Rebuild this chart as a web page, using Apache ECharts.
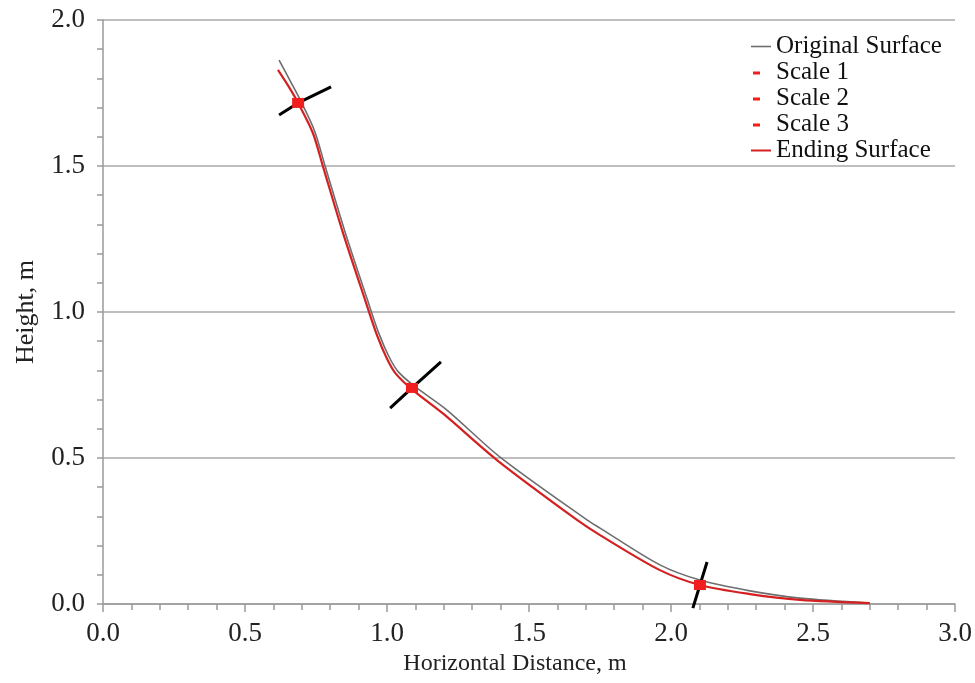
<!DOCTYPE html>
<html>
<head>
<meta charset="utf-8">
<script src="https://cdn.jsdelivr.net/npm/echarts@6/dist/echarts.min.js"></script>
<style>
html,body{margin:0;padding:0;background:#fff;}
#chart{width:975px;height:683px;}
</style>
</head>
<body>
<div id="chart"></div>
<script>
// Data
const originalX = [0.620, 0.660, 0.695, 0.745, 0.782, 0.852, 0.930, 0.972, 1.008, 1.040, 1.098, 1.210, 1.398, 1.704, 1.750, 1.961, 2.102, 2.278, 2.454, 2.700];
const originalY = [1.863, 1.790, 1.725, 1.620, 1.500, 1.275, 1.045, 0.925, 0.845, 0.795, 0.745, 0.665, 0.503, 0.288, 0.260, 0.134, 0.082, 0.045, 0.020, 0.003];
const endingX = [0.616, 0.655, 0.687, 0.739, 0.775, 0.845, 0.923, 0.965, 1.000, 1.030, 1.088, 1.200, 1.387, 1.669, 1.750, 1.961, 2.102, 2.278, 2.454, 2.700];
const endingY = [1.829, 1.770, 1.716, 1.613, 1.497, 1.271, 1.041, 0.920, 0.840, 0.790, 0.735, 0.650, 0.493, 0.288, 0.236, 0.116, 0.065, 0.034, 0.014, 0.003];
const scale1Center = [0.687, 1.716];
const scale1Line = [[0.620, 1.675], [0.803, 1.771]];
const scale2Center = [1.088, 0.740];
const scale2Line = [[1.011, 0.671], [1.190, 0.829]];
const scale3Center = [2.102, 0.065];
const scale3Line = [[2.077, -0.014], [2.127, 0.144]];
const xTicks = [0, 0.5, 1.0, 1.5, 2.0, 2.5, 3.0];
const yTicks = [0, 0.5, 1.0, 1.5, 2.0];
const seriesNames = ['Original Surface', 'Scale 1', 'Scale 2', 'Scale 3', 'Ending Surface'];

const FONT = 'Liberation Serif';
const GRAY = '#6e6e6e';
const RED = '#d42020';
const MARK = '#f01e1e';
const zip = (xs, ys) => xs.map((x, i) => [x, ys[i]]);
function scaleData(line, center) {
  return [
    { value: line[0], symbol: 'none' },
    { value: center, symbol: 'rect', symbolSize: [12, 10] },
    { value: line[1], symbol: 'none' }
  ];
}
function scaleSeries(name, line, center) {
  return {
    name: name, type: 'line',
    data: scaleData(line, center), clip: false, z: 5,
    lineStyle: { color: '#000', width: 3 },
    itemStyle: { color: MARK },
    showAllSymbol: true
  };
}
const dashIcon = 'path://M0,0 L0,0 M2,4 L9,4 L9,7 L2,7 Z M20,10 L20,10';
const lineIcon = 'path://M0,0 L0,0 M0,4.2 L20,4.2 L20,5.8 L0,5.8 Z M20,10 L20,10';
const lineIconRed = 'path://M0,0 L0,0 M0,4 L20,4 L20,6 L0,6 Z M20,10 L20,10';

const chart = echarts.init(document.getElementById('chart'), null, { renderer: 'canvas' });
const axisCommon = { min: 0, interval: 0.5 };
const tickColor = '#9a9a9a';
chart.setOption({
  animation: false,
  backgroundColor: '#fff',
  grid: { left: 103, right: 20, top: 20, bottom: 79, containLabel: false, outerBoundsMode: 'none' },
  legend: {
    orient: 'vertical', left: 751, top: 34,
    itemWidth: 20, itemHeight: 10, itemGap: 1,
    textStyle: { fontFamily: FONT, fontSize: 25, color: '#111', lineHeight: 22 },
    padding: [0, 0, 0, 0],
    data: [
      { name: seriesNames[0], icon: lineIcon, itemStyle: { color: GRAY } },
      { name: seriesNames[1], icon: dashIcon, itemStyle: { color: MARK } },
      { name: seriesNames[2], icon: dashIcon, itemStyle: { color: MARK } },
      { name: seriesNames[3], icon: dashIcon, itemStyle: { color: MARK } },
      { name: seriesNames[4], icon: lineIconRed, itemStyle: { color: RED } }
    ]
  },
  xAxis: [
    Object.assign({}, axisCommon, {
      type: 'value', max: 3,
      name: 'Horizontal Distance, m', nameLocation: 'middle', nameGap: 46,
      nameTextStyle: { fontFamily: FONT, fontSize: 24, color: '#222', padding: [0, 28, 0, 0] },
      axisLine: { show: true, lineStyle: { color: tickColor, width: 1.5 } },
      axisTick: { show: true, inside: false, length: 8, lineStyle: { color: tickColor, width: 1.5 } },
      minorTick: { show: false },
      axisLabel: { margin: 16, fontFamily: FONT, fontSize: 27, color: '#222', formatter: v => v.toFixed(1), customValues: xTicks },
      splitLine: { show: false }
    }),
    Object.assign({}, axisCommon, {
      type: 'value', max: 3,
      axisLine: { show: false },
      axisTick: { show: true, inside: true, length: 6, lineStyle: { color: tickColor, width: 1.5 } },
      minorTick: { show: true, splitNumber: 5, length: 6, lineStyle: { color: tickColor, width: 1.5 } },
      axisLabel: { show: false },
      splitLine: { show: false }
    })
  ],
  yAxis: [
    Object.assign({}, axisCommon, {
      type: 'value', max: 2,
      name: 'Height, m', nameLocation: 'middle', nameGap: 64, nameRotate: 90,
      nameTextStyle: { fontFamily: FONT, fontSize: 26, color: '#222' },
      axisLine: { show: true, lineStyle: { color: tickColor, width: 1.5 } },
      axisTick: { show: true, inside: false, length: 6, lineStyle: { color: tickColor, width: 1.5 } },
      minorTick: { show: false },
      axisLabel: { margin: 18, fontFamily: FONT, fontSize: 27, color: '#222', formatter: v => v.toFixed(1), customValues: yTicks },
      splitLine: { show: true, lineStyle: { color: '#a8a8a8', width: 1.5 } }
    }),
    Object.assign({}, axisCommon, {
      type: 'value', max: 2,
      axisLine: { show: false },
      axisTick: { show: true, inside: true, length: 6, lineStyle: { color: tickColor, width: 1.5 } },
      minorTick: { show: true, splitNumber: 5, length: 6, lineStyle: { color: tickColor, width: 1.5 } },
      axisLabel: { show: false },
      splitLine: { show: false }
    })
  ],
  series: [
    {
      name: seriesNames[0], type: 'line', data: zip(originalX, originalY),
      symbol: 'none', smooth: 0.3, z: 3,
      lineStyle: { color: GRAY, width: 1.6 }, itemStyle: { color: GRAY }
    },
    scaleSeries(seriesNames[1], scale1Line, scale1Center),
    scaleSeries(seriesNames[2], scale2Line, scale2Center),
    scaleSeries(seriesNames[3], scale3Line, scale3Center),
    {
      name: seriesNames[4], type: 'line', data: zip(endingX, endingY),
      symbol: 'none', smooth: 0.3, z: 4,
      lineStyle: { color: RED, width: 2.2 }, itemStyle: { color: RED }
    }
  ]
});
</script>
</body>
</html>
